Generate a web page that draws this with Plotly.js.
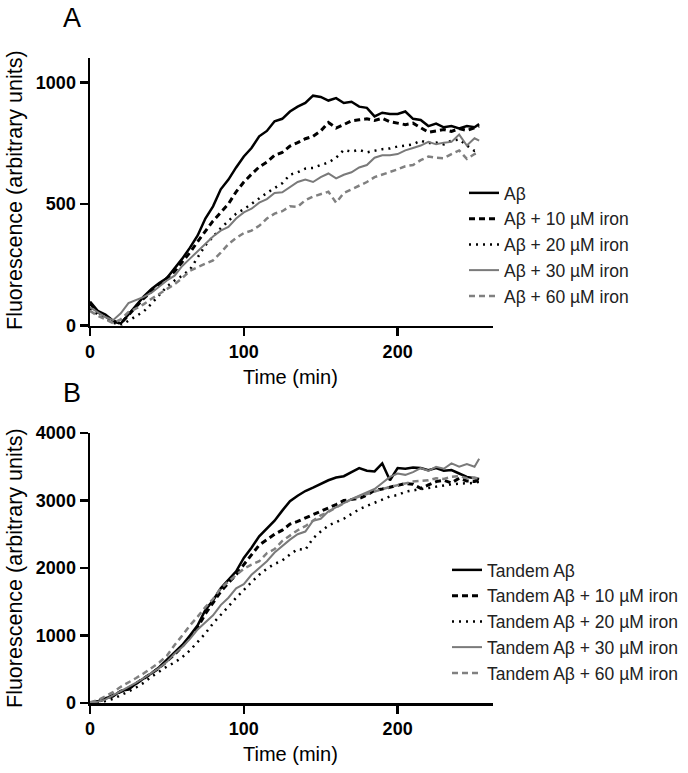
<!DOCTYPE html>
<html>
<head>
<meta charset="utf-8">
<script src="https://cdn.plot.ly/plotly-3.0.1.min.js"></script>
<style>html,body{margin:0;padding:0;background:#fff;}#chart{width:688px;height:773px;}</style>
</head>
<body>
<div id="chart"></div>
<script>
// Time points (min)
const time = [0,5,10,15,20,25,30,35,40,45,50,55,60,65,70,75,80,85,90,95,100,105,110,115,120,125,130,135,140,145,150,155,160,165,170,175,180,185,190,195,200,205,210,215,220,225,230,235,240,245,250,253];

// Panel A series names
const namesA = ["Aβ", "Aβ + 10 µM iron", "Aβ + 20 µM iron", "Aβ + 30 µM iron", "Aβ + 60 µM iron"];
// Panel B series names
const namesB = ["Tandem Aβ", "Tandem Aβ + 10 µM iron", "Tandem Aβ + 20 µM iron", "Tandem Aβ + 30 µM iron", "Tandem Aβ + 60 µM iron"];

// Panel A values
const abA   = [98,60,45,20,8,45,80,120,150,175,195,235,275,320,370,440,490,560,600,650,695,730,778,800,840,850,880,900,915,945,940,925,935,915,920,900,895,860,875,870,870,880,850,845,820,830,815,820,810,820,815,828];
const ab10A = [90,55,38,18,8,42,78,112,140,168,192,222,262,300,345,390,430,465,500,550,590,622,652,672,700,712,738,752,768,778,800,835,812,826,842,846,850,843,852,838,833,826,832,812,795,800,806,798,810,802,815,820];
const ab20A = [70,45,30,12,0,20,40,58,90,125,160,185,205,230,280,330,365,400,430,460,478,500,525,545,565,585,620,630,645,648,660,670,690,722,715,722,712,720,725,728,736,740,745,760,750,752,745,760,765,740,718,725];
const ab30A = [75,55,35,22,50,92,105,118,135,160,185,205,245,275,305,335,366,390,405,440,465,480,505,520,545,548,570,590,600,590,610,625,605,620,630,650,660,690,700,700,705,720,730,740,755,745,752,755,785,740,770,760];
const ab60A = [60,40,25,10,25,55,70,88,110,130,150,170,195,225,240,255,268,300,335,360,380,390,410,440,460,470,490,488,515,530,540,550,505,545,560,575,590,610,620,630,642,655,660,680,695,690,688,705,720,685,705,712];

// Panel B values
const tAB   = [5,25,70,100,180,200,290,360,440,530,640,740,860,1000,1150,1380,1520,1700,1820,1950,2150,2300,2470,2580,2700,2850,2990,3070,3140,3190,3250,3300,3340,3360,3420,3480,3440,3430,3550,3300,3480,3470,3490,3480,3450,3480,3440,3450,3400,3350,3330,3320];
const tAB10 = [5,20,60,110,170,220,290,360,440,520,620,720,840,980,1120,1320,1480,1650,1780,1900,2050,2200,2340,2420,2500,2560,2650,2690,2740,2780,2840,2880,2940,3000,3020,3030,3080,3150,3170,3200,3230,3250,3240,3180,3230,3280,3300,3260,3330,3290,3280,3300];
const tAB20 = [0,10,30,60,110,170,230,300,390,470,540,600,680,780,900,1030,1180,1300,1430,1560,1680,1790,1900,1990,2060,2110,2200,2280,2270,2440,2540,2630,2680,2730,2800,2870,2920,2970,3010,3060,3080,3130,3150,3170,3180,3200,3220,3240,3250,3260,3260,3280];
const tAB30 = [5,20,50,110,170,230,300,370,440,520,610,730,830,950,1090,1200,1300,1450,1560,1700,1760,1900,2000,2100,2230,2330,2420,2500,2540,2700,2730,2840,2900,2970,3020,3070,3120,3170,3260,3350,3400,3380,3420,3480,3440,3500,3470,3550,3500,3540,3500,3620];
const tAB60 = [10,40,100,160,240,300,370,440,520,600,700,860,1000,1150,1280,1420,1540,1700,1800,1900,1990,2050,2100,2220,2280,2400,2480,2560,2620,2700,2780,2830,2900,2960,3020,3060,3100,3130,3170,3200,3230,3250,3280,3290,3300,3330,3320,3350,3360,3330,3340,3320];

// Tick labels
const xTicks = [0, 100, 200];
const yTicksA = [0, 500, 1000];
const yTicksB = [0, 1000, 2000, 3000, 4000];

const styles = [
  {color: '#000000', width: 2.5, dash: 'solid'},
  {color: '#000000', width: 3, dash: '6px,4px'},
  {color: '#000000', width: 2.5, dash: '2px,5px'},
  {color: '#7a7a7a', width: 2, dash: 'solid'},
  {color: '#808080', width: 2.5, dash: '6px,4px'}
];

const valsA = [abA, ab10A, ab20A, ab30A, ab60A];
const valsB = [tAB, tAB10, tAB20, tAB30, tAB60];

const traces = [];
valsA.forEach((v, i) => traces.push({
  x: time, y: v, type: 'scatter', mode: 'lines', name: namesA[i],
  line: styles[i], xaxis: 'x', yaxis: 'y', legend: 'legend', legendgroup: 'a' + i
}));
valsB.forEach((v, i) => traces.push({
  x: time, y: v, type: 'scatter', mode: 'lines', name: namesB[i],
  line: styles[i], xaxis: 'x2', yaxis: 'y2', legend: 'legend2', legendgroup: 'b' + i
}));

const W = 688, H = 773;
const px = v => v / W;
const py = v => 1 - v / H;
const FONT = 'Liberation Sans, Arial, sans-serif';

const axisCommon = {
  showline: true, linecolor: '#000', linewidth: 2.5,
  ticks: 'outside', ticklen: 8, tickwidth: 2.5, tickcolor: '#000',
  showgrid: false, zeroline: false,
  tickfont: {family: FONT, size: 18, color: '#000', weight: 'bold'},
  tickmode: 'array', fixedrange: true
};

const layout = {
  width: W, height: H,
  margin: {l: 0, r: 0, t: 0, b: 0},
  paper_bgcolor: '#fff', plot_bgcolor: '#fff',
  font: {family: FONT, color: '#000'},
  showlegend: true,
  xaxis: Object.assign({}, axisCommon, {domain: [px(90), px(493)], range: [0, 262], tickvals: xTicks, anchor: 'y'}),
  yaxis: Object.assign({}, axisCommon, {domain: [py(325.5), py(58)], range: [0, 1100], tickvals: yTicksA, anchor: 'x'}),
  xaxis2: Object.assign({}, axisCommon, {domain: [px(90), px(493)], range: [0, 262], tickvals: xTicks, anchor: 'y2'}),
  yaxis2: Object.assign({}, axisCommon, {domain: [py(703), py(433)], range: [0, 4000], tickvals: yTicksB, anchor: 'x2'}),
  legend: {x: px(464), xanchor: 'left', y: py(175), yanchor: 'top', font: {family: FONT, size: 17.5, color: '#222'},
           bgcolor: 'rgba(0,0,0,0)', tracegroupgap: 0, traceorder: 'grouped'},
  legend2: {x: px(447), xanchor: 'left', y: py(552), yanchor: 'top', font: {family: FONT, size: 17.5, color: '#222'},
           bgcolor: 'rgba(0,0,0,0)', tracegroupgap: 0, traceorder: 'grouped'},
  annotations: [
    {text: 'A', x: px(72), y: py(18), xref: 'paper', yref: 'paper', showarrow: false, xanchor: 'center', yanchor: 'middle', font: {family: FONT, size: 27, color: '#000'}},
    {text: 'B', x: px(72), y: py(393), xref: 'paper', yref: 'paper', showarrow: false, xanchor: 'center', yanchor: 'middle', font: {family: FONT, size: 27, color: '#000'}},
    {text: 'Fluorescence (arbitrary units)', x: px(15), y: py(190), xref: 'paper', yref: 'paper', showarrow: false, textangle: -90, xanchor: 'center', yanchor: 'middle', font: {family: FONT, size: 21.5, color: '#000'}},
    {text: 'Fluorescence (arbitrary units)', x: px(15), y: py(568), xref: 'paper', yref: 'paper', showarrow: false, textangle: -90, xanchor: 'center', yanchor: 'middle', font: {family: FONT, size: 21.5, color: '#000'}},
    {text: 'Time (min)', x: px(290), y: py(377), xref: 'paper', yref: 'paper', showarrow: false, xanchor: 'center', yanchor: 'middle', font: {family: FONT, size: 20, color: '#000'}},
    {text: 'Time (min)', x: px(290), y: py(754), xref: 'paper', yref: 'paper', showarrow: false, xanchor: 'center', yanchor: 'middle', font: {family: FONT, size: 20, color: '#000'}}
  ]
};

Plotly.newPlot('chart', traces, layout, {displayModeBar: false, staticPlot: true});
</script>
</body>
</html>
